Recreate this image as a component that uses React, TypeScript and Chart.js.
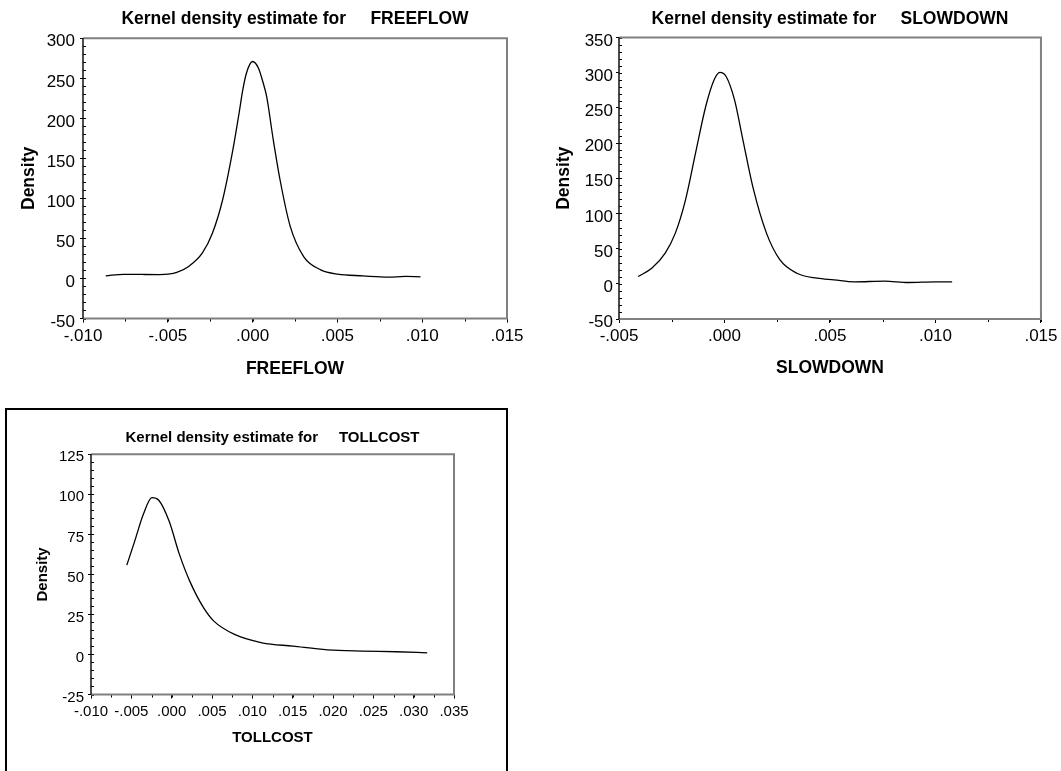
import React, { useEffect, useRef } from "react";
import { Chart, registerables } from "chart.js";

Chart.register(...registerables);

const FONT = "'Liberation Sans', Arial, Helvetica, sans-serif";

// ---------- data ----------
const freeflowX = [-0.00866, -0.0076, -0.0065, -0.0055, -0.00497, -0.00447, -0.00377, -0.00297, -0.00237, -0.00177, -0.00117, -0.00077, -0.0006, -0.00037, 0.0, 0.00034, 0.0006, 0.00083, 0.00122, 0.00162, 0.00222, 0.00302, 0.00402, 0.00501, 0.00651, 0.008, 0.009, 0.0099];
const freeflowY = [3.3, 5.2, 5.0, 4.9, 5.4, 7.5, 15, 31.6, 56.5, 98, 160, 210, 233, 256, 271, 263, 246, 227, 173, 123, 65, 27, 10.8, 5.4, 3.3, 1.7, 2.5, 2.1];

const slowdownX = [-0.00409, -0.00345, -0.00281, -0.00233, -0.00185, -0.00137, -0.00089, -0.00049, -0.00022, 0.00007, 0.00047, 0.00087, 0.00135, 0.00199, 0.00263, 0.00343, 0.00439, 0.00519, 0.00615, 0.00759, 0.00871, 0.00999, 0.01079];
const slowdownY = [10.4, 22, 43.6, 72, 119, 186, 252, 290, 300.5, 295, 262, 205, 137, 72, 34, 15, 8, 5.7, 2.8, 3.8, 1.9, 2.8, 2.8];

const tollcostX = [-0.00556, -0.00458, -0.00351, -0.00245, -0.0016, -0.00032, 0.00096, 0.00224, 0.00395, 0.00523, 0.00779, 0.0112, 0.01504, 0.01931, 0.02358, 0.02784, 0.03168];
const tollcostY = [55.8, 70.8, 87.5, 97.9, 96.3, 83.3, 62.5, 45.8, 29.2, 20.8, 12.5, 7.3, 5.2, 2.9, 2.1, 1.7, 1.0];

// axis ranges: [min, max, major step, minor step]
const freeflowXAxis = [-0.01, 0.015, 0.005, 0.0025];
const freeflowYAxis = [-50, 300, 50, 10];
const slowdownXAxis = [-0.005, 0.015, 0.005, 0.0025];
const slowdownYAxis = [-50, 350, 50, 10];
const tollcostXAxis = [-0.01, 0.035, 0.005, 0.0025];
const tollcostYAxis = [-25, 125, 25, 5];

const titlePrefix = "Kernel density estimate for     ";
const yTitleText = "Density";

// ---------- helpers ----------
function fmtX(v: number): string {
  if (Math.abs(v) < 1e-9) v = 0;
  let s = v.toFixed(3);
  s = s.replace(/^(-?)0\./, "$1.");
  return s;
}

const framePlugin = {
  id: "kdeFrame",
  afterDraw(chart: any, _args: any, opts: any) {
    const { ctx, chartArea: a, scales } = chart;
    const xs = scales.x;
    const ys = scales.y;
    ctx.save();
    ctx.strokeStyle = "#000";
    ctx.lineWidth = 1;
    ctx.beginPath();
    for (let i = 0; ; i++) {
      const v = ys.min + i * opts.minorY;
      if (v > ys.max + 1e-9) break;
      const py = Math.round(ys.getPixelForValue(v)) + 0.5;
      ctx.moveTo(a.left, py);
      ctx.lineTo(a.left + 3, py);
    }
    for (let i = 0; ; i++) {
      const v = xs.min + i * opts.minorX;
      if (v > xs.max + 1e-12) break;
      const px = Math.round(xs.getPixelForValue(v)) + 0.5;
      ctx.moveTo(px, a.bottom);
      ctx.lineTo(px, a.bottom + 3);
    }
    ctx.stroke();
    ctx.strokeStyle = "#808080";
    ctx.lineWidth = 2;
    ctx.beginPath();
    ctx.moveTo(a.left, a.top);
    ctx.lineTo(a.right, a.top);
    ctx.lineTo(a.right, a.bottom);
    ctx.lineTo(a.left, a.bottom);
    ctx.stroke();
    ctx.strokeStyle = "#111";
    ctx.lineWidth = 1.5;
    ctx.beginPath();
    ctx.moveTo(a.left, a.top);
    ctx.lineTo(a.left, a.bottom);
    ctx.stroke();
    ctx.restore();
  },
};

type Spec = {
  name: string;
  xs: number[];
  ys: number[];
  xAxis: number[];
  yAxis: number[];
  left: number;
  top: number;
  w: number;
  h: number;
  pad: { left: number; top: number; right: number; bottom: number };
  yWidth: number;
  xHeight: number;
  titleSize: number;
  titlePad: { top: number; bottom: number };
  axisTitleSize: number;
  yTitlePad: number;
  tickSize: number;
  yTickLen: number;
  yTickPad: number;
  yLabelOffset: number;
  xTickLen: number;
  xTickPad: number;
};

function KDEChart({ s }: { s: Spec }) {
  const ref = useRef<HTMLCanvasElement | null>(null);
  useEffect(() => {
    if (!ref.current) return;
    const data = s.xs.map((x, i) => ({ x, y: s.ys[i] }));
    const chart = new Chart(ref.current, {
      type: "line",
      data: {
        datasets: [
          {
            label: s.name,
            data,
            borderColor: "#000",
            borderWidth: 1.3,
            pointRadius: 0,
            fill: false,
            cubicInterpolationMode: "monotone",
          },
        ],
      },
      options: {
        animation: false,
        responsive: false,
        devicePixelRatio: 1,
        events: [],
        layout: { padding: s.pad },
        plugins: {
          legend: { display: false },
          tooltip: { enabled: false },
          title: {
            display: true,
            text: titlePrefix + s.name,
            fullSize: false,
            color: "#000",
            font: { family: FONT, size: s.titleSize, weight: "bold" },
            padding: s.titlePad,
          },
          kdeFrame: { minorX: s.xAxis[3], minorY: s.yAxis[3] },
        } as any,
        scales: {
          x: {
            type: "linear",
            min: s.xAxis[0],
            max: s.xAxis[1],
            border: { display: false },
            grid: {
              display: true,
              drawOnChartArea: false,
              drawTicks: true,
              tickLength: s.xTickLen,
              tickColor: "#000",
              lineWidth: 1,
            },
            ticks: {
              stepSize: s.xAxis[2],
              autoSkip: false,
              maxRotation: 0,
              minRotation: 0,
              color: "#000",
              padding: s.xTickPad,
              font: { family: FONT, size: s.tickSize },
              callback: (v: any) => fmtX(Number(v)),
            },
            title: {
              display: true,
              text: s.name,
              color: "#000",
              font: { family: FONT, size: s.axisTitleSize, weight: "bold" },
              padding: { top: 0, bottom: 0 },
            },
            afterFit: (sc: any) => {
              sc.height = s.xHeight;
            },
          },
          y: {
            type: "linear",
            min: s.yAxis[0],
            max: s.yAxis[1],
            border: { display: false },
            grid: {
              display: true,
              drawOnChartArea: false,
              drawTicks: true,
              tickLength: s.yTickLen,
              tickColor: "#000",
              lineWidth: 1,
            },
            ticks: {
              stepSize: s.yAxis[2],
              autoSkip: false,
              color: "#000",
              padding: s.yTickPad,
              labelOffset: s.yLabelOffset,
              font: { family: FONT, size: s.tickSize },
              callback: (v: any) => String(Math.round(Number(v))),
            },
            title: {
              display: true,
              text: yTitleText,
              color: "#000",
              font: { family: FONT, size: s.axisTitleSize, weight: "bold" },
              padding: { top: s.yTitlePad, bottom: 0 },
            },
            afterFit: (sc: any) => {
              sc.width = s.yWidth;
            },
          },
        },
      } as any,
      plugins: [framePlugin],
    });
    return () => chart.destroy();
  }, [s]);
  return (
    <canvas
      ref={ref}
      width={s.w}
      height={s.h}
      style={{ position: "absolute", left: s.left, top: s.top, width: s.w, height: s.h }}
    />
  );
}

const specs: Spec[] = [
  {
    name: "FREEFLOW",
    xs: freeflowX,
    ys: freeflowY,
    xAxis: freeflowXAxis,
    yAxis: freeflowYAxis,
    left: 0,
    top: 0,
    w: 530,
    h: 390,
    pad: { left: 0, top: 0, right: 23, bottom: 10.5 },
    yWidth: 83,
    xHeight: 61,
    titleSize: 17.5,
    titlePad: { top: 8.7, bottom: 8.6 },
    axisTitleSize: 17.5,
    yTitlePad: 18.2,
    tickSize: 17,
    yTickLen: 3,
    yTickPad: 5,
    yLabelOffset: 3.5,
    xTickLen: 4,
    xTickPad: 3.5,
  },
  {
    name: "SLOWDOWN",
    xs: slowdownX,
    ys: slowdownY,
    xAxis: slowdownXAxis,
    yAxis: slowdownYAxis,
    left: 530,
    top: 0,
    w: 531,
    h: 390,
    pad: { left: 0, top: 0, right: 19.5, bottom: 11.2 },
    yWidth: 89,
    xHeight: 59.8,
    titleSize: 17.5,
    titlePad: { top: 8.7, bottom: 7.8 },
    axisTitleSize: 17.5,
    yTitlePad: 23.8,
    tickSize: 17,
    yTickLen: 3,
    yTickPad: 3,
    yLabelOffset: 3.5,
    xTickLen: 4,
    xTickPad: 3.5,
  },
  {
    name: "TOLLCOST",
    xs: tollcostX,
    ys: tollcostY,
    xAxis: tollcostXAxis,
    yAxis: tollcostYAxis,
    left: 10,
    top: 412,
    w: 490,
    h: 355,
    pad: { left: 0, top: 0, right: 46, bottom: 20.3 },
    yWidth: 81,
    xHeight: 52.2,
    titleSize: 15,
    titlePad: { top: 16.7, bottom: 7.6 },
    axisTitleSize: 15,
    yTitlePad: 24.3,
    tickSize: 15,
    yTickLen: 3,
    yTickPad: 4,
    yLabelOffset: 3,
    xTickLen: 4,
    xTickPad: 4,
  },
];

export default function App() {
  return (
    <div
      style={{
        position: "absolute",
        left: 0,
        top: 0,
        width: 1061,
        height: 771,
        overflow: "hidden",
        background: "#fff",
      }}
    >
      <div
        style={{
          position: "absolute",
          left: 5,
          top: 408,
          width: 503,
          height: 420,
          border: "2px solid #000",
          boxSizing: "border-box",
        }}
      />
      {specs.map((s) => (
        <KDEChart key={s.name} s={s} />
      ))}
    </div>
  );
}
